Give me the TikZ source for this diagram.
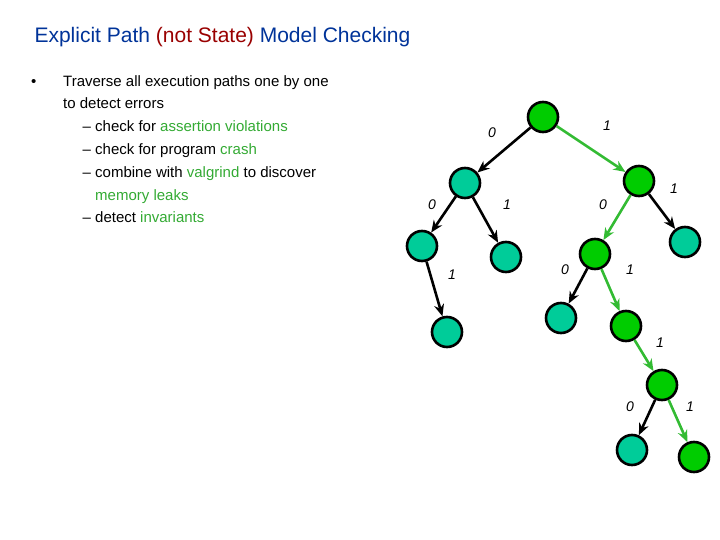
\documentclass[tikz,border=0pt]{standalone}
\usepackage{fontspec}
\setmainfont{Liberation Sans}
\usetikzlibrary{arrows.meta}
\definecolor{titleblue}{RGB}{0,51,153}
\definecolor{darkred}{RGB}{153,0,0}
\definecolor{hlgreen}{RGB}{51,170,51}
\definecolor{teal}{RGB}{0,204,153}
\definecolor{leaf}{RGB}{0,204,0}
\definecolor{pathgreen}{RGB}{51,187,51}
\tikzset{
  every picture/.style={>={Stealth[length=12pt,width=10pt]}},
  state/.style={circle, draw, line width=2.6pt, minimum size=30pt, inner sep=0pt, fill=teal},
  onpath/.style={state, fill=leaf},
  edge/.style={->, line width=2.6pt, black},
  pathedge/.style={edge, pathgreen},
  bit/.style={font=\itshape\fontsize{14}{16}\selectfont, inner sep=0pt}}

\begin{document}
\begin{tikzpicture}[x=1pt, y=-1pt]
    \useasboundingbox (0,0) rectangle (720,540);

    \node[anchor=west, text=titleblue, font=\fontsize{21}{24}\selectfont] (title) at (31,37)
      {Explicit Path \textcolor{darkred}{(not State)} Model Checking};

    \node[anchor=north west, align=left, font=\fontsize{15}{22.8}\selectfont, inner sep=0pt] (text) at (31,75)
      {\hbox to 32pt{\textbullet\hfil}Traverse all execution paths one by one\\
       \hspace*{32pt}to detect errors\\
       \hspace*{64pt}\llap{-- }check for \textcolor{hlgreen}{assertion violations}\\
       \hspace*{64pt}\llap{-- }check for program \textcolor{hlgreen}{crash}\\
       \hspace*{64pt}\llap{-- }combine with \textcolor{hlgreen}{valgrind} to discover\\
       \hspace*{64pt}\textcolor{hlgreen}{memory leaks}\\
       \hspace*{64pt}\llap{-- }detect \textcolor{hlgreen}{invariants}};

    % tree
    \node[onpath] (root) at (543,117) {};
    \node[state]  (l)    at (465,183) {};
    \node[onpath] (r)    at (639,181) {};
    \node[state]  (ll)   at (422,246) {};
    \node[state]  (lr)   at (506,257) {};
    \node[onpath] (rl)   at (595,254) {};
    \node[state]  (rr)   at (685,242) {};
    \node[state]  (llr)  at (447,332) {};
    \node[state]  (rll)  at (561,318) {};
    \node[onpath] (rlr)  at (626,326) {};
    \node[onpath] (rlrr) at (662,385) {};
    \node[state]  (end0) at (632,450) {};
    \node[onpath] (end1) at (694,457) {};

    \draw[edge]     (root) -- (l);
    \draw[pathedge] (root) -- (r);
    \draw[edge]     (l) -- (ll);
    \draw[edge]     (l) -- (lr);
    \draw[pathedge] (r) -- (rl);
    \draw[edge]     (r) -- (rr);
    \draw[edge]     (ll) -- (llr);
    \draw[edge]     (rl) -- (rll);
    \draw[pathedge] (rl) -- (rlr);
    \draw[pathedge] (rlr) -- (rlrr);
    \draw[edge]     (rlrr) -- (end0);
    \draw[pathedge] (rlrr) -- (end1);

    \node[bit] (b1)  at (492,133) {0};
    \node[bit] (b2)  at (607,126) {1};
    \node[bit] (b3)  at (432,205) {0};
    \node[bit] (b4)  at (507,205) {1};
    \node[bit] (b5)  at (603,205) {0};
    \node[bit] (b6)  at (674,189) {1};
    \node[bit] (b7)  at (452,275) {1};
    \node[bit] (b8)  at (565,270) {0};
    \node[bit] (b9)  at (630,270) {1};
    \node[bit] (b10) at (660,343) {1};
    \node[bit] (b11) at (630,407) {0};
    \node[bit] (b12) at (690,407) {1};
\end{tikzpicture}
\end{document}
